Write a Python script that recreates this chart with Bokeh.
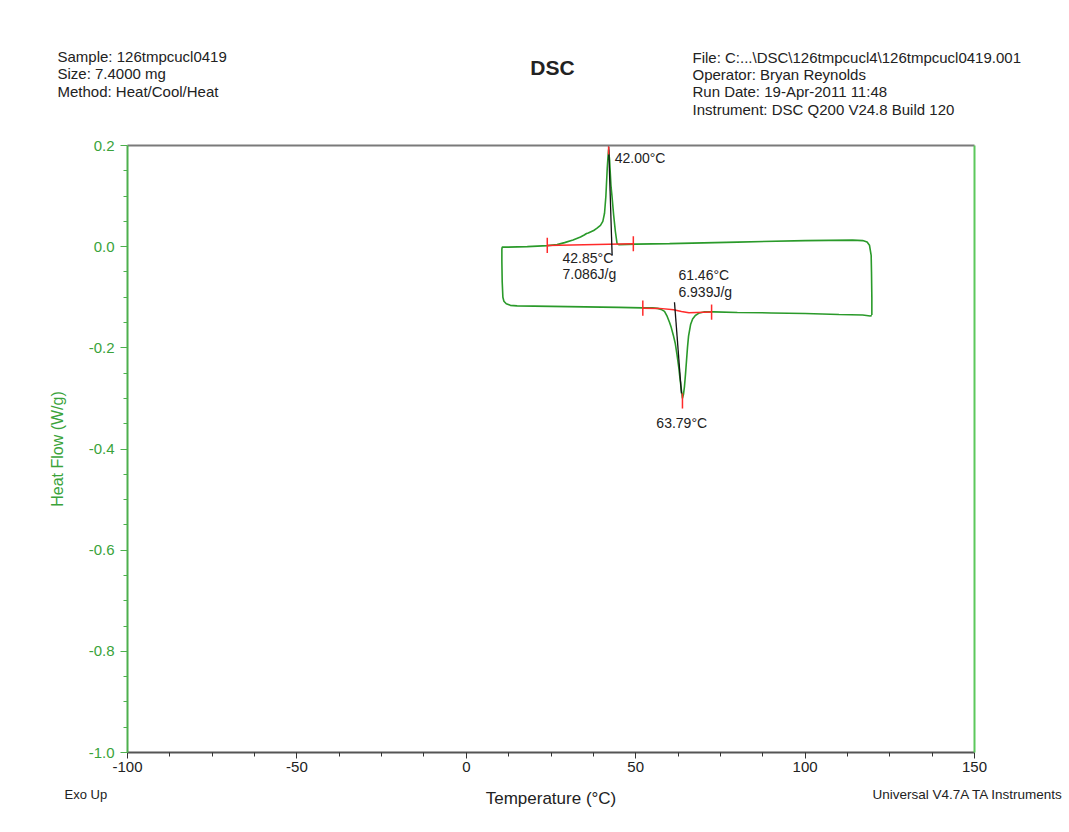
from bokeh.plotting import figure
from bokeh.models import (LinearAxis, FixedTicker, Label, Range1d, CustomJSTickFormatter)
from bokeh.embed import file_html
from bokeh.resources import INLINE

# ---------------- data ----------------
# DSC trace: right edge up, cooling (exo peak), left edge down, heating (endo peak)
T_curve = [119.7, 119.7, 119.6, 119.5, 119.0, 118.3, 117.0, 114.0, 100.0, 80.0, 60.0, 50.0,
           45.0, 44.5, 44.0, 43.5, 43.0, 42.7, 42.3, 42.0, 41.8, 41.6, 41.2, 40.8, 40.3,
           39.6, 38.5, 37.6, 36.0, 35.5, 34.8, 33.7, 31.5, 29.0, 26.8, 24.0, 18.0, 12.0,
           10.6, 10.5, 10.5, 10.6, 10.8, 11.1, 11.8, 13.0, 15.0, 25.0, 35.0, 45.0, 52.0,
           55.0, 56.5, 57.5, 58.5, 59.3, 60.0, 60.5, 61.1, 61.7, 62.2, 62.7, 63.1, 63.5,
           63.8, 64.1, 64.4, 64.7, 65.0, 65.3, 65.6, 66.2, 66.8, 67.6, 68.8, 70.1, 73.1,
           80.0, 90.0, 100.0, 110.0, 117.0, 119.2, 119.7]
HF_curve = [-0.135, -0.10, -0.05, -0.017, 0.003, 0.009, 0.012, 0.013, 0.012, 0.009, 0.006, 0.005,
            0.004, 0.006, 0.030, 0.062, 0.100, 0.121, 0.170, 0.192, 0.175, 0.155, 0.100, 0.066, 0.050,
            0.042, 0.036, 0.032, 0.027, 0.026, 0.023, 0.019, 0.013, 0.008, 0.004, 0.002, 0.000, -0.001,
            -0.001, -0.005, -0.030, -0.070, -0.100, -0.108, -0.113, -0.116, -0.117, -0.118, -0.119, -0.120, -0.121,
            -0.121, -0.122, -0.124, -0.128, -0.138, -0.150, -0.160, -0.175, -0.192, -0.214, -0.238, -0.262, -0.284,
            -0.300, -0.292, -0.276, -0.252, -0.225, -0.198, -0.177, -0.154, -0.143, -0.136, -0.131, -0.129, -0.129,
            -0.130, -0.131, -0.132, -0.134, -0.135, -0.137, -0.136]

# integration baselines (red)
base1_T = [23.9, 49.3]
base1_HF = [0.0024, 0.0057]
base2_T = [52.1, 57.0, 61.2, 63.5, 65.7, 72.4]
base2_HF = [-0.1215, -0.122, -0.1247, -0.128, -0.1306, -0.1294]

# limit / peak markers (red vertical ticks): temperature, centre heat flow
mark_T = [23.9, 49.3, 42.0, 52.1, 72.4, 63.8]
mark_HF = [0.0024, 0.0057, 0.197, -0.1215, -0.1294, -0.305]

# onset tangents (black)
tan1_T = [42.03, 43.04]
tan1_HF = [0.197, -0.017]
tan2_T = [61.45, 63.5]
tan2_HF = [-0.110, -0.290]

# annotation texts
ann_texts = ["42.00°C", "42.85°C", "7.086J/g", "61.46°C", "6.939J/g", "63.79°C"]
ann_T = [43.8, 28.4, 28.4, 62.6, 62.6, 56.1]
ann_HF = [0.175, -0.023, -0.055, -0.056, -0.090, -0.349]

x_ticks = [-100, -50, 0, 50, 100, 150]
y_ticks = [0.2, 0.0, -0.2, -0.4, -0.6, -0.8, -1.0]

header_left = ["Sample: 126tmpcucl0419", "Size:  7.4000 mg", "Method: Heat/Cool/Heat"]
header_right = ["File: C:...\\DSC\\126tmpcucl4\\126tmpcucl0419.001", "Operator: Bryan Reynolds",
                "Run Date: 19-Apr-2011 11:48", "Instrument: DSC Q200 V24.8 Build 120"]

# ---------------- figure ----------------
FONT = "Liberation Sans"
GREEN = "#2a9a2a"
AX_GREEN = "#4db04d"
RED = "#ff2a2a"
INK = "#222222"

W, H = 1065, 828
FL, FT, FR, FB = 127, 145, 974, 752  # frame edges on canvas

p = figure(width=W, height=H, output_backend="svg", toolbar_location=None,
           x_range=Range1d(-100, 150), y_range=Range1d(-1.0, 0.2),
           x_axis_location=None, y_axis_location=None,
           min_border_left=FL, min_border_right=W - FR, min_border_top=FT, min_border_bottom=H - FB)
p.outline_line_color = None
p.xgrid.visible = False
p.ygrid.visible = False
p.background_fill_color = "white"
p.border_fill_color = "white"

minor_x = [v for v in [-100 + 12.5 * i for i in range(21)] if v not in x_ticks]
minor_y = [round(-1.0 + 0.05 * i, 3) for i in range(25)]
minor_y = [v for v in minor_y if all(abs(v - t) > 1e-6 for t in y_ticks)]

xaxis = LinearAxis(ticker=FixedTicker(ticks=x_ticks, minor_ticks=minor_x),
                   axis_label="Temperature (°C)")
xaxis.formatter = CustomJSTickFormatter(code="return tick.toFixed(0);")
xaxis.axis_line_color = "#555555"
xaxis.axis_line_width = 2
xaxis.major_tick_line_color = "#333333"
xaxis.minor_tick_line_color = "#333333"
xaxis.major_tick_in = 0
xaxis.major_tick_out = 6
xaxis.minor_tick_in = 0
xaxis.minor_tick_out = 4
xaxis.major_label_standoff = 3
xaxis.major_label_text_font = FONT
xaxis.major_label_text_font_size = "15px"
xaxis.major_label_text_color = INK
xaxis.axis_label_text_font = FONT
xaxis.axis_label_text_font_size = "17px"
xaxis.axis_label_text_font_style = "normal"
xaxis.axis_label_text_color = INK
xaxis.axis_label_standoff = 14
p.add_layout(xaxis, "below")

yaxis = LinearAxis(ticker=FixedTicker(ticks=y_ticks, minor_ticks=minor_y),
                   axis_label="Heat Flow (W/g)")
yaxis.formatter = CustomJSTickFormatter(code="return tick.toFixed(1);")
yaxis.axis_line_color = AX_GREEN
yaxis.axis_line_width = 2
yaxis.major_tick_line_color = AX_GREEN
yaxis.minor_tick_line_color = AX_GREEN
yaxis.major_tick_in = 0
yaxis.major_tick_out = 7
yaxis.minor_tick_in = 0
yaxis.minor_tick_out = 4
yaxis.major_label_standoff = 6
yaxis.major_label_text_font = FONT
yaxis.major_label_text_font_size = "15px"
yaxis.major_label_text_color = "#3aa33a"
yaxis.axis_label_text_font = FONT
yaxis.axis_label_text_font_size = "16px"
yaxis.axis_label_text_font_style = "normal"
yaxis.axis_label_text_color = "#3aa33a"
yaxis.axis_label_standoff = 20
p.add_layout(yaxis, "left")

top_axis = LinearAxis(ticker=FixedTicker(ticks=[]))
top_axis.axis_line_color = "#7a7a7a"
top_axis.axis_line_width = 2
top_axis.major_tick_line_color = None
top_axis.minor_tick_line_color = None
top_axis.major_tick_out = 0
top_axis.minor_tick_out = 0
top_axis.major_label_standoff = 0
top_axis.major_label_text_font_size = "0px"
p.add_layout(top_axis, "above")

right_axis = LinearAxis(ticker=FixedTicker(ticks=[]))
right_axis.axis_line_color = "#5cc85c"
right_axis.axis_line_width = 2
right_axis.major_tick_line_color = None
right_axis.minor_tick_line_color = None
right_axis.major_tick_out = 0
right_axis.minor_tick_out = 0
right_axis.major_label_standoff = 0
right_axis.major_label_text_font_size = "0px"
p.add_layout(right_axis, "right")

# ---------------- marks ----------------
p.line(T_curve, HF_curve, line_color=GREEN, line_width=1.6)
p.line(base1_T, base1_HF, line_color=RED, line_width=1.5)
p.line(base2_T, base2_HF, line_color=RED, line_width=1.5)
p.line(tan1_T, tan1_HF, line_color="#111111", line_width=1.3)
p.line(tan2_T, tan2_HF, line_color="#111111", line_width=1.3)
p.segment(x0=mark_T, y0=[h - 0.015 for h in mark_HF], x1=mark_T, y1=[h + 0.015 for h in mark_HF],
          line_color=RED, line_width=1.5)

for txt, tx, ty in zip(ann_texts, ann_T, ann_HF):
    p.add_layout(Label(x=tx, y=ty, text=txt, text_font=FONT, text_font_size="14px",
                       text_color=INK, text_align="left", text_baseline="middle"))

# ---------------- header / footer (side-panel labels, screen offsets) ----------------
def side_label(x, y, text, size, align="left", baseline="top", style="normal", lh=1.2):
    return Label(x=x, y=y, x_units="screen", y_units="screen", text=text,
                 text_font=FONT, text_font_size=size, text_font_style=style,
                 text_color=INK, text_align=align, text_baseline=baseline,
                 text_line_height=lh)

right_block = side_label(692 - FL, 97, "\n".join(header_right), "15px", lh=1.025)
left_block = side_label(57 - FL, 29, "\n".join(header_left), "15px", lh=1.03)
dsc_title = side_label(552 - FL, -42.5, "DSC", "21px", align="center", baseline="middle", style="bold")
p.add_layout(right_block, "above")
p.add_layout(left_block, "above")
p.add_layout(dsc_title, "above")

exo = side_label(62, -42, "Exo Up", "13px", baseline="middle")
p.add_layout(exo, "left")
univ = side_label(1063 - FL, 31.5, "Universal V4.7A TA Instruments", "13.5px", align="right", baseline="middle")
p.add_layout(univ, "below")

open("out.html", "w").write(file_html(p, INLINE))
